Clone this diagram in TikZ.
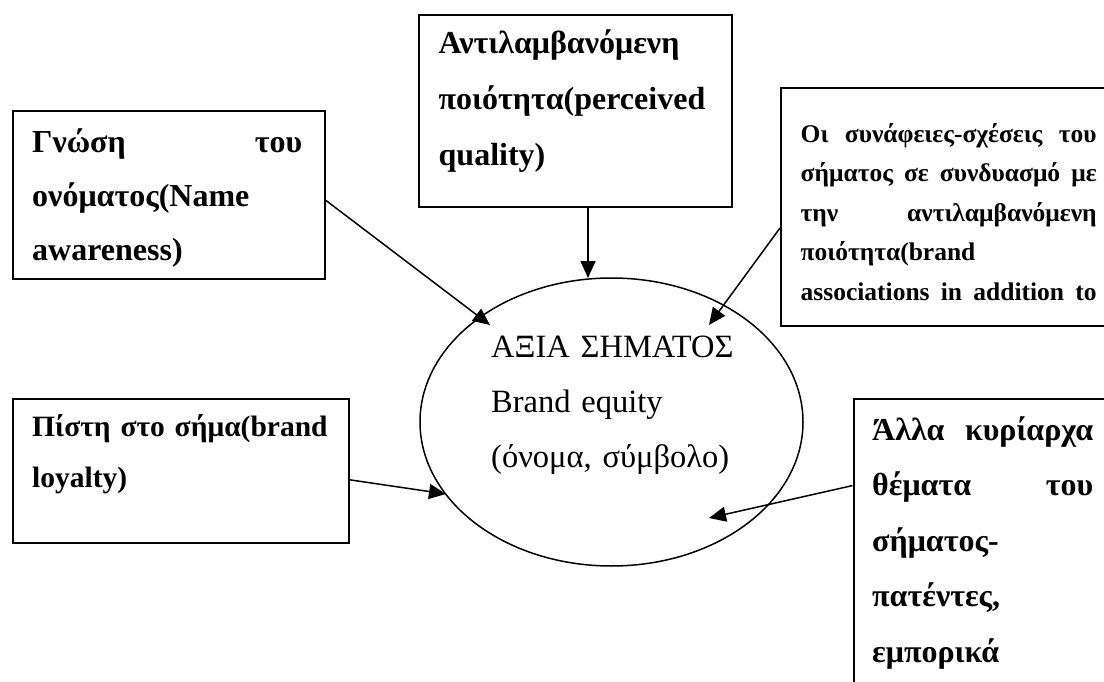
\documentclass[tikz,border=0pt]{standalone}
\usepackage{fontspec}
\setmainfont{Liberation Serif}
\usetikzlibrary{arrows.meta,shapes.geometric}

% a justified row of words inside a box
\newcommand{\fullrow}[1]{\makebox[\hsize][s]{#1}}

\tikzset{
  factor/.style={draw, line width=2pt, inner sep=0pt, anchor=north west},
  factortext/.style={anchor=north west, inner sep=0pt, align=left, font=\bfseries\fontsize{32}{54}\selectfont},
  brandtext/.style={anchor=north west, inner sep=0pt, align=left, font=\fontsize{32.5}{55}\selectfont},
  link/.style={line width=1.5pt, -{Triangle[length=17pt,width=15pt]}},
}

\begin{document}
\begin{tikzpicture}[x=1pt,y=-1pt]
    \useasboundingbox (0,0) rectangle (1104,682);
    \clip (0,0) rectangle (1104,682);

    % Brand equity in the middle
    \node[draw, ellipse, line width=1.5pt, inner sep=0pt, minimum width=383pt, minimum height=288pt] (brand) at (611.5,422) {};
    \node[brandtext, text width=260pt] (brand text) at (491,331) {\rule{0pt}{26pt}ΑΞΙΑ ΣΗΜΑΤΟΣ\\Brand equity\\(όνομα, σύμβολο)};

    % Boxes round it
    \node[factor, minimum width=312pt, minimum height=168pt] (gnosi) at (12,110) {};
    \node[factortext, text width=270pt] (gnosi text) at (32,126) {\rule{0pt}{26pt}\fullrow{Γνώση \hfill του}\\ονόματος(Name\\awareness)};

    \node[factor, minimum width=313pt, minimum height=192pt] (poiotita) at (418,14) {};
    \node[factortext, text width=290pt, font=\bfseries\fontsize{32}{56}\selectfont] (poiotita text) at (438.5,27) {\rule{0pt}{26pt}Αντιλαμβανόμενη\\ποιότητα(perceived\\quality)};

    \node[factor, minimum width=340pt, minimum height=238pt] (synafeies) at (780,87) {};
    \node[factortext, text width=296pt, font=\bfseries\fontsize{25.5}{39.5}\selectfont] (synafeies text) at (800.5,121) {\rule{0pt}{21pt}\fullrow{Οι \hfill συνάφειες-σχέσεις \hfill του}\\\fullrow{σήματος \hfill σε \hfill συνδυασμό \hfill με}\\\fullrow{την \hfill αντιλαμβανόμενη}\\ποιότητα(brand\\\fullrow{associations \hfill in \hfill addition \hfill to}};

    \node[factor, minimum width=336pt, minimum height=144pt] (pisti) at (12,398) {};
    \node[factortext, text width=295pt, font=\bfseries\fontsize{29.5}{51}\selectfont] (pisti text) at (32,411) {\rule{0pt}{25pt}\fullrow{Πίστη \hfill στο \hfill σήμα(brand}\\loyalty)};

    \node[factor, minimum width=270pt, minimum height=300pt] (alla) at (852.5,398) {};
    \node[factortext, text width=221pt, font=\bfseries\fontsize{32}{55.5}\selectfont] (alla text) at (872,414) {\rule{0pt}{26pt}\fullrow{Άλλα \hfill κυρίαρχα}\\\fullrow{θέματα \hfill του}\\σήματος-\\πατέντες,\\εμπορικά};

    % Arrow ends at and inside the ellipse
    \coordinate (gnosi tip) at (490,325);
    \coordinate (poiotita tip) at (588,278);
    \coordinate (synafeies tip) at (709,325);
    \coordinate (pisti tip) at (446,494);
    \coordinate (alla tip) at (709,518);

    % Arrows
    \draw[link] (gnosi.-2) -- (gnosi tip);
    \draw[link] (poiotita.south -| poiotita tip) -- (poiotita tip);
    \draw[link] (synafeies.187) -- (synafeies tip);
    \draw[link] (pisti.-3.75) -- (pisti tip);
    \draw[link] (alla.155.3) -- (alla tip);
\end{tikzpicture}
\end{document}
